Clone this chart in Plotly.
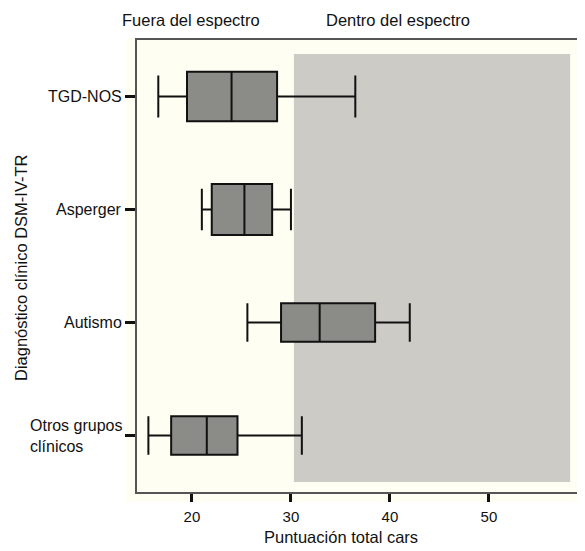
import plotly.graph_objects as go

# ---- data ----
categories = ["TGD-NOS", "Asperger", "Autismo", "Otros grupos clínicos"]
category_labels = ["TGD-NOS", "Asperger", "Autismo", "Otros grupos<br>clínicos"]
lower_whisker = [16.6, 21.0, 25.6, 15.6]
q1_values = [19.5, 22.0, 29.0, 17.9]
medians = [24.0, 25.3, 32.9, 21.5]
q3_values = [28.6, 28.1, 38.5, 24.6]
upper_whisker = [36.5, 30.0, 42.0, 31.1]
box_widths = [0.44, 0.45, 0.34, 0.34]
whisker_widths = [0.84, 0.82, 1.0, 1.0]
x_ticks = [20, 30, 40, 50]
spectrum_threshold = 30.3
spectrum_end = 58.2

FONT = "Liberation Sans, Arial, Helvetica, sans-serif"
OFF = 8  # page body margin
W, H = 585 - OFF, 551 - OFF
L, T = 137 - OFF, 40 - OFF
R = 0
B = H - (492 - OFF)
PW, PH = W - L - R, H - T - B


def px_x(p):
    return (p - OFF - L) / PW


def px_y(p):
    return (H - B - (p - OFF)) / PH


fig = go.Figure()
for i, cat in enumerate(categories):
    fig.add_trace(go.Box(
        y=[cat], orientation="h",
        q1=[q1_values[i]], median=[medians[i]], q3=[q3_values[i]],
        lowerfence=[lower_whisker[i]], upperfence=[upper_whisker[i]],
        width=box_widths[i], whiskerwidth=whisker_widths[i],
        fillcolor="#8b8b87", line=dict(color="#111111", width=2),
        boxpoints=False, showlegend=False, hoverinfo="skip",
    ))

shapes = [
    dict(type="rect", xref="paper", yref="paper", x0=px_x(126), x1=1.0,
         y0=px_y(502), y1=px_y(38), fillcolor="#fefef3", line=dict(width=0), layer="below"),
    dict(type="rect", xref="x", yref="paper", x0=spectrum_threshold, x1=spectrum_end,
         y0=px_y(482), y1=px_y(54), fillcolor="#cccbc6", line=dict(width=0), layer="below"),
]

annotations = []
for cat, lab in zip(categories, category_labels):
    annotations.append(dict(x=px_x(124), y=cat, xref="paper", yref="y", text=lab,
                            xanchor="right", yanchor="middle", align="left", showarrow=False,
                            font=dict(family=FONT, size=16, color="#111111")))
annotations += [
    dict(x=px_x(190.5), y=px_y(20), xref="paper", yref="paper", text="Fuera del espectro",
         showarrow=False, xanchor="center", yanchor="middle",
         font=dict(family=FONT, size=16.5, color="#111111")),
    dict(x=px_x(397.5), y=px_y(20), xref="paper", yref="paper", text="Dentro del espectro",
         showarrow=False, xanchor="center", yanchor="middle",
         font=dict(family=FONT, size=16.5, color="#111111")),
    dict(x=px_x(341), y=px_y(537), xref="paper", yref="paper", text="Puntuación total cars",
         showarrow=False, xanchor="center", yanchor="middle",
         font=dict(family=FONT, size=16.5, color="#111111")),
    dict(x=px_x(21), y=px_y(267), xref="paper", yref="paper", text="Diagnóstico clínico DSM-IV-TR",
         showarrow=False, xanchor="center", yanchor="middle", textangle=-90,
         font=dict(family=FONT, size=16.5, color="#111111")),
]

fig.update_layout(
    width=W, height=H,
    margin=dict(l=L, r=R, t=T, b=B, pad=0),
    paper_bgcolor="white", plot_bgcolor="#fefef3",
    shapes=shapes, annotations=annotations,
    xaxis=dict(range=[14.45, 59.7], tickvals=x_ticks, ticks="outside", ticklen=8, tickwidth=3,
               tickcolor="#111111", showgrid=False, zeroline=False,
               showline=True, mirror=True, linecolor="#555555", linewidth=2,
               tickfont=dict(family=FONT, size=15, color="#111111"), ticklabelstandoff=2),
    yaxis=dict(categoryorder="array", categoryarray=categories[::-1],
               range=[-0.5, 3.5], ticks="outside", ticklen=10, tickwidth=3, tickcolor="#111111",
               showticklabels=False, showgrid=False, zeroline=False,
               showline=True, linecolor="#555555", linewidth=2),
    font=dict(family=FONT),
)

fig.write_html("out.html")
